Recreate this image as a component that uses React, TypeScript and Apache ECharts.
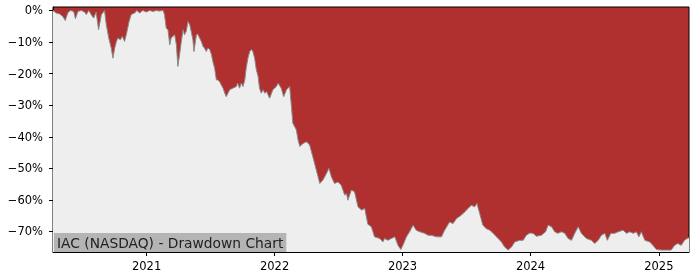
import React, { useEffect, useRef } from 'react';
import * as echarts from 'echarts';

const dates = [
  '2020-04-09', '2020-04-18', '2020-04-28', '2020-05-07', '2020-05-14', '2020-05-21', '2020-05-28', '2020-06-07',
  '2020-06-12', '2020-06-19', '2020-06-29', '2020-07-08', '2020-07-13', '2020-07-20', '2020-07-27', '2020-08-03',
  '2020-08-10', '2020-08-17', '2020-08-25', '2020-09-03', '2020-09-08', '2020-09-15', '2020-09-22', '2020-09-27',
  '2020-10-02', '2020-10-07', '2020-10-11', '2020-10-18', '2020-10-24', '2020-10-30', '2020-11-04', '2020-11-12',
  '2020-11-18', '2020-11-28', '2020-12-04', '2020-12-12', '2020-12-21', '2020-12-31', '2021-01-10', '2021-01-19',
  '2021-01-29', '2021-02-05', '2021-02-17', '2021-02-21', '2021-02-26', '2021-03-03', '2021-03-08', '2021-03-12',
  '2021-03-22', '2021-03-27', '2021-03-31', '2021-04-05', '2021-04-10', '2021-04-15', '2021-04-19', '2021-04-24',
  '2021-04-29', '2021-05-04', '2021-05-09', '2021-05-13', '2021-05-16', '2021-05-23', '2021-05-27', '2021-06-01',
  '2021-06-06', '2021-06-11', '2021-06-15', '2021-06-20', '2021-06-25', '2021-06-30', '2021-07-05', '2021-07-09',
  '2021-07-14', '2021-07-19', '2021-07-23', '2021-07-28', '2021-08-02', '2021-08-07', '2021-08-12', '2021-08-16',
  '2021-08-21', '2021-08-26', '2021-09-04', '2021-09-14', '2021-09-18', '2021-09-23', '2021-09-28', '2021-10-03',
  '2021-10-08', '2021-10-12', '2021-10-17', '2021-10-22', '2021-10-27', '2021-10-31', '2021-11-05', '2021-11-10',
  '2021-11-15', '2021-11-19', '2021-11-24', '2021-11-29', '2021-12-04', '2021-12-09', '2021-12-18', '2021-12-27',
  '2022-01-06', '2022-01-11', '2022-01-20', '2022-01-27', '2022-02-04', '2022-02-13', '2022-02-18', '2022-02-22',
  '2022-03-04', '2022-03-09', '2022-03-14', '2022-03-23', '2022-04-02', '2022-04-11', '2022-04-20', '2022-04-30',
  '2022-05-10', '2022-05-19', '2022-05-29', '2022-06-05', '2022-06-12', '2022-06-21', '2022-07-01', '2022-07-10',
  '2022-07-20', '2022-07-25', '2022-07-29', '2022-08-08', '2022-08-17', '2022-08-27', '2022-09-06', '2022-09-15',
  '2022-09-24', '2022-10-04', '2022-10-13', '2022-10-28', '2022-11-06', '2022-11-11', '2022-11-20', '2022-11-30',
  '2022-12-10', '2022-12-19', '2022-12-27', '2023-01-02', '2023-01-12', '2023-01-21', '2023-01-31', '2023-02-09',
  '2023-02-19', '2023-03-05', '2023-03-15', '2023-03-24', '2023-04-08', '2023-04-22', '2023-05-01', '2023-05-15',
  '2023-05-25', '2023-06-04', '2023-06-18', '2023-06-27', '2023-07-07', '2023-07-16', '2023-07-26', '2023-08-01',
  '2023-08-09', '2023-08-18', '2023-08-28', '2023-09-07', '2023-09-16', '2023-09-26', '2023-10-10', '2023-10-19',
  '2023-10-29', '2023-11-08', '2023-11-17', '2023-12-01', '2023-12-11', '2023-12-20', '2023-12-30', '2024-01-08',
  '2024-01-18', '2024-02-01', '2024-02-13', '2024-02-20', '2024-03-01', '2024-03-10', '2024-03-19', '2024-03-29',
  '2024-04-08', '2024-04-17', '2024-04-27', '2024-05-06', '2024-05-16', '2024-05-25', '2024-06-08', '2024-06-23',
  '2024-07-02', '2024-07-12', '2024-07-21', '2024-07-31', '2024-08-07', '2024-08-17', '2024-08-28', '2024-09-07',
  '2024-09-21', '2024-10-01', '2024-10-10', '2024-10-20', '2024-10-29', '2024-11-05', '2024-11-12', '2024-11-22',
  '2024-12-06', '2024-12-15', '2024-12-25', '2025-01-08', '2025-01-22', '2025-02-05', '2025-02-15', '2025-02-24',
  '2025-03-06', '2025-03-15', '2025-03-23', '2025-03-28',
];

const drawdown = [
  0, -0.8, -1.1, -1.9, -3.2, -0.8, 0, -0.3,
  -2.6, -0.3, 0, -0.5, -1.3, 0, -1.3, -2.4,
  -0.5, -6.1, -1.3, 0, -4.5, -8.7, -11.9, -15.1,
  -11.9, -9.8, -8.7, -9.3, -8.2, -9.8, -7.7, -3.5,
  -1.3, -0.8, 0, -0.8, 0, -0.5, 0, -0.3,
  0, -0.2, 0, -1.3, -5.6, -6.1, -10.9, -8.7,
  -7.7, -10.9, -17.7, -14.0, -9.8, -6.1, -7.7, -6.6,
  -3.5, -4.5, -7.1, -9.3, -13.0, -7.7, -7.5, -8.7,
  -9.8, -11.4, -11.9, -13.0, -11.9, -12.4, -14.0, -16.2,
  -18.3, -22.0, -22.0, -22.5, -23.6, -24.6, -26.2, -27.3,
  -26.2, -25.1, -24.6, -24.1, -23.0, -24.6, -23.0, -24.1,
  -22.0, -18.3, -15.1, -13.0, -12.4, -13.0, -15.1, -18.8,
  -20.9, -24.6, -26.2, -25.1, -26.2, -25.7, -27.8, -25.1,
  -24.1, -23.0, -24.6, -27.3, -25.1, -24.1, -30.4, -35.7,
  -37.8, -41.0, -43.1, -42.1, -41.6, -42.6, -46.3, -50.5,
  -54.8, -53.7, -51.6, -50.0, -52.7, -54.8, -54.3, -55.3,
  -58.5, -57.9, -60.1, -56.9, -57.4, -62.2, -63.2, -62.7,
  -67.7, -68.5, -71.7, -72.2, -73.3, -72.2, -72.8, -72.2,
  -71.7, -74.4, -75.7, -74.4, -71.7, -70.1, -68.0, -69.6,
  -70.1, -70.6, -71.2, -71.2, -71.7, -71.7, -69.6, -67.0,
  -67.5, -65.9, -64.8, -63.8, -62.7, -61.7, -62.2, -61.1,
  -64.3, -68.0, -69.1, -69.6, -70.6, -71.7, -73.3, -74.9,
  -75.9, -74.9, -73.3, -72.8, -72.8, -71.2, -70.5, -70.6,
  -71.5, -71.2, -70.1, -68.0, -68.5, -70.1, -70.6, -70.1,
  -70.6, -72.2, -72.8, -70.6, -68.5, -70.6, -72.2, -72.8,
  -73.8, -72.8, -71.2, -70.6, -72.8, -70.6, -70.6, -70.1,
  -69.6, -70.6, -70.1, -70.6, -70.1, -71.7, -70.1, -72.8,
  -73.3, -74.4, -75.7, -75.9, -75.9, -75.9, -74.4, -73.8,
  -74.4, -72.8, -72.2, -72.0,
];

const yTicks = [0, -10, -20, -30, -40, -50, -60, -70];
const yearTicks = ['2021', '2022', '2023', '2024', '2025'];
const chartTitle = 'IAC (NASDAQ) - Drawdown Chart';

const toTime = (d: string) => {
  const [y, m, day] = d.split('-').map(Number);
  return new Date(y, m - 1, day).getTime();
};

export default function App() {
  const ref = useRef<HTMLDivElement>(null);
  useEffect(() => {
    const chart = echarts.init(ref.current!, null, { renderer: 'svg' });
    const ff = 'DejaVu Sans';
    const yearVals = yearTicks.map((y) => new Date(Number(y), 0, 1).getTime());
    chart.setOption({
      animation: false,
      title: {
        text: chartTitle,
        left: 54,
        top: 233,
        padding: [2, 3, 1, 3],
        backgroundColor: '#b4b4b4',
        textStyle: { fontFamily: ff, fontSize: 13.8, fontWeight: 'normal', color: '#222', lineHeight: 16 },
        z: 10,
      },
      grid: {
        left: 53,
        right: 11,
        top: 7,
        bottom: 28,
        show: true,
        backgroundColor: '#b03030',
        borderColor: '#000',
        borderWidth: 1,
      },
      xAxis: {
        type: 'value',
        min: toTime(dates[0]),
        max: toTime(dates[dates.length - 1]),
        axisLine: { show: true, onZero: false, lineStyle: { color: '#000', width: 1 } },
        axisTick: { show: true, length: 4, lineStyle: { color: '#000' }, customValues: yearVals },
        axisLabel: {
          customValues: yearVals,
          formatter: (v: number) => String(new Date(v).getFullYear()),
          fontFamily: ff,
          fontSize: 11.5,
          color: '#000',
          margin: 8,
        },
        splitLine: { show: false },
      },
      yAxis: {
        type: 'value',
        min: -76.5,
        max: 1.1,
        axisLine: { show: true, onZero: false, lineStyle: { color: '#000', width: 1 } },
        axisTick: { show: true, length: 4, lineStyle: { color: '#000' }, customValues: yTicks },
        axisLabel: {
          customValues: yTicks,
          formatter: (v: number) => (v < 0 ? '\u2212' : '') + Math.abs(v) + '%',
          fontFamily: ff,
          fontSize: 11.5,
          color: '#000',
          margin: 10,
        },
        splitLine: { show: false },
      },
      series: [
        {
          type: 'line',
          data: dates.map((d, i) => [toTime(d), drawdown[i]]),
          showSymbol: false,
          symbol: 'none',
          lineStyle: { color: '#8a8a8a', width: 1 },
          areaStyle: { color: '#eeeeee', opacity: 1, origin: 'start' },
        },
      ],
    });
    return () => chart.dispose();
  }, []);
  return <div ref={ref} style={{ position: 'fixed', left: 0, top: 0, width: 700, height: 280 }} />;
}
